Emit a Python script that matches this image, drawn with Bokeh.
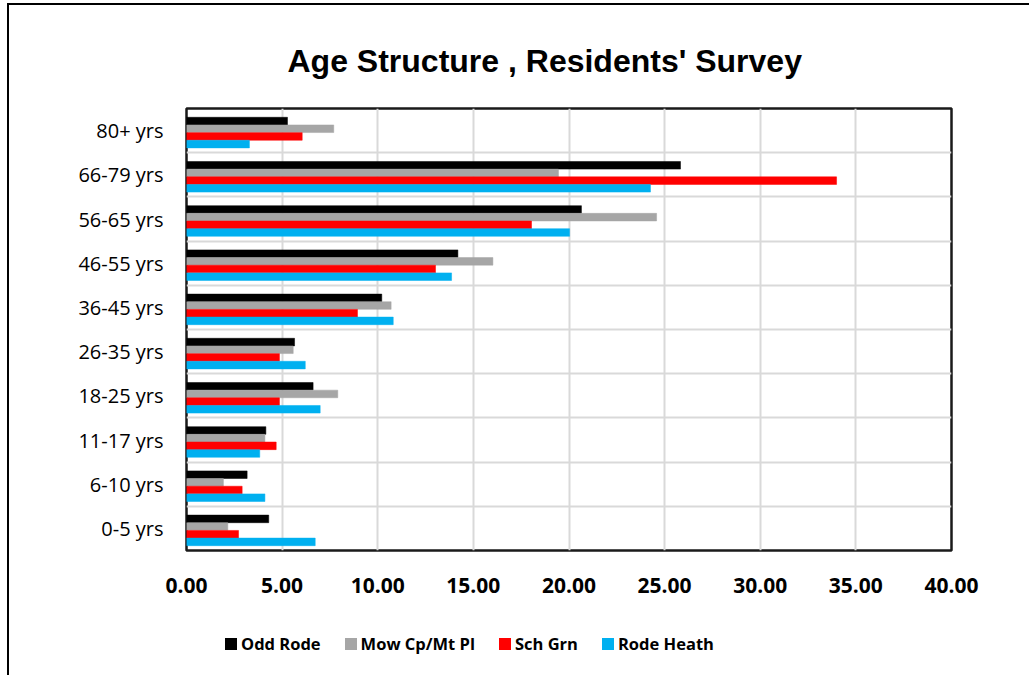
from bokeh.plotting import figure
from bokeh.layouts import column
from bokeh.models import (ColumnDataSource, FixedTicker, NumeralTickFormatter, Range1d,
                          Legend, LegendItem, Title)
from bokeh.transform import dodge
from bokeh.embed import file_html
from bokeh.resources import INLINE

ages = ["0-5 yrs", "6-10 yrs", "11-17 yrs", "18-25 yrs", "26-35 yrs",
        "36-45 yrs", "46-55 yrs", "56-65 yrs", "66-79 yrs", "80+ yrs"]
series_names = ["Odd Rode", "Mow Cp/Mt Pl", "Sch Grn", "Rode Heath"]
odd_rode   = [4.30, 3.17, 4.15, 6.62, 5.65, 10.21, 14.19, 20.65, 25.83, 5.28]
mow_cp     = [2.16, 1.93, 4.10, 7.91, 5.58, 10.70, 16.02, 24.58, 19.45, 7.70]
sch_grn    = [2.72, 2.91, 4.69, 4.86, 4.86, 8.94, 13.02, 18.04, 33.99, 6.05]
rode_heath = [6.73, 4.10, 3.83, 6.99, 6.21, 10.81, 13.86, 20.03, 24.26, 3.29]
x_ticks = [0, 5, 10, 15, 20, 25, 30, 35, 40]

colors = ["#000000", "#a6a6a6", "#ff0000", "#00b0f0"]
keys = ["odd", "mow", "sch", "rode"]
offsets = [0.215, 0.042, -0.132, -0.305]
bar_h = 0.172

src = ColumnDataSource(data=dict(pos=list(range(len(ages))), odd=odd_rode, mow=mow_cp,
                                 sch=sch_grn, rode=rode_heath))

p = figure(width=1020, height=600, output_backend="svg", toolbar_location=None,
           x_range=Range1d(0, 40), y_range=Range1d(-0.5, len(ages) - 0.5),
           min_border_left=177, min_border_top=103, min_border_right=78, min_border_bottom=55)

p.title = Title(text="Age Structure , Residents' Survey", align="left", offset=101,
                text_font="Liberation Sans", text_font_size="32px", text_font_style="bold",
                text_color="#000000", standoff=60)

for key, off, col in zip(keys, offsets, colors):
    p.hbar(y=dodge("pos", off), right=key, left=0, height=bar_h, source=src,
           fill_color=col, line_color=col, line_width=0.5)

p.outline_line_color = "#1a1a1a"
p.outline_line_width = 2.5

p.xaxis.ticker = FixedTicker(ticks=x_ticks)
p.xaxis.formatter = NumeralTickFormatter(format="0.00")
p.xaxis.axis_line_color = None
p.xaxis.major_tick_line_color = None
p.xaxis.minor_tick_line_color = None
p.xaxis.major_label_text_font = "Open Sans"
p.xaxis.major_label_text_font_style = "bold"
p.xaxis.major_label_text_font_size = "21px"
p.xaxis.major_label_text_color = "#000000"
p.xaxis.major_label_standoff = 21

p.yaxis.ticker = FixedTicker(ticks=list(range(len(ages))))
p.yaxis.major_label_overrides = {i: a for i, a in enumerate(ages)}
p.yaxis.axis_line_color = None
p.yaxis.major_tick_line_color = None
p.yaxis.minor_tick_line_color = None
p.yaxis.major_label_text_font = "Open Sans"
p.yaxis.major_label_text_font_size = "20px"
p.yaxis.major_label_text_color = "#000000"
p.yaxis.major_label_standoff = 17

p.xgrid.ticker = FixedTicker(ticks=x_ticks)
p.xgrid.grid_line_color = "#d9d9d9"
p.xgrid.grid_line_width = 2
p.ygrid.ticker = FixedTicker(ticks=[i + 0.5 for i in range(len(ages) - 1)])
p.ygrid.grid_line_color = "#d9d9d9"
p.ygrid.grid_line_width = 2
p.background_fill_color = "white"
p.border_fill_color = "white"

# legend strip below the chart: same series renderers, placed far outside its visible range
leg_fig = figure(width=1020, height=70, output_backend="svg", toolbar_location=None,
                 x_axis_location=None, y_axis_location=None,
                 x_range=Range1d(1000, 1001), y_range=Range1d(1000, 1001),
                 min_border=0, min_border_left=0, min_border_right=0,
                 min_border_top=0, min_border_bottom=0)
leg_fig.outline_line_color = None
leg_fig.xgrid.visible = False
leg_fig.ygrid.visible = False
leg_renderers = []
for key, off, col in zip(keys, offsets, colors):
    r = leg_fig.hbar(y=dodge("pos", off), right=key, left=0, height=bar_h, source=src,
                     fill_color=col, line_color=None)
    leg_renderers.append(r)

legend = Legend(items=[LegendItem(label=n, renderers=[r]) for n, r in zip(series_names, leg_renderers)],
                orientation="horizontal", location=(37, 20), padding=0, margin=0,
                border_line_color=None, background_fill_alpha=0,
                glyph_width=15, glyph_height=15, label_standoff=3, spacing=22,
                label_text_font="Open Sans", label_text_font_style="bold",
                label_text_font_size="16.5px", label_text_color="#000000")
leg_fig.add_layout(legend, "center")

layout = column(p, leg_fig, spacing=0)
layout.styles = {"margin-left": "7px", "margin-top": "3px",
                 "border-left": "2px solid #000000", "border-top": "2px solid #000000"}

open("out.html", "w").write(file_html(layout, INLINE))
